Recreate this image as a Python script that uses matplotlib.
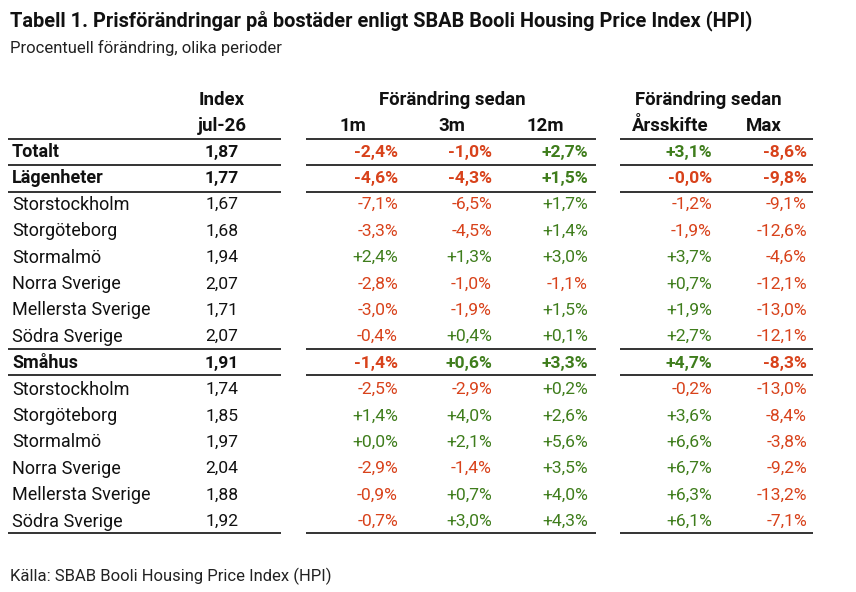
import matplotlib
matplotlib.use("Agg")
from matplotlib import pyplot as plt

plt.rcParams['font.family'] = ['Roboto', 'DejaVu Sans']

title = "Tabell 1. Prisförändringar på bostäder enligt SBAB Booli Housing Price Index (HPI)"
subtitle = "Procentuell förändring, olika perioder"
source = "Källa: SBAB Booli Housing Price Index (HPI)"

regions = ["Totalt", "Lägenheter", "Storstockholm", "Storgöteborg", "Stormalmö",
           "Norra Sverige", "Mellersta Sverige", "Södra Sverige", "Småhus",
           "Storstockholm", "Storgöteborg", "Stormalmö", "Norra Sverige",
           "Mellersta Sverige", "Södra Sverige"]
bold_rows = [0, 1, 8]
index_jul26 = [1.87, 1.77, 1.67, 1.68, 1.94, 2.07, 1.71, 2.07, 1.91,
               1.74, 1.85, 1.97, 2.04, 1.88, 1.92]
chg_1m = [-2.4, -4.6, -7.1, -3.3, 2.4, -2.8, -3.0, -0.4, -1.4,
          -2.5, 1.4, 0.0, -2.9, -0.9, -0.7]
chg_3m = [-1.0, -4.3, -6.5, -4.5, 1.3, -1.0, -1.9, 0.4, 0.6,
          -2.9, 4.0, 2.1, -1.4, 0.7, 3.0]
chg_12m = [2.7, 1.5, 1.7, 1.4, 3.0, -1.1, 1.5, 0.1, 3.3,
           0.2, 2.6, 5.6, 3.5, 4.0, 4.3]
chg_ytd = [3.1, -0.0, -1.2, -1.9, 3.7, 0.7, 1.9, 2.7, 4.7,
           -0.2, 3.6, 6.6, 6.7, 6.3, 6.1]
chg_max = [-8.6, -9.8, -9.1, -12.6, -4.6, -12.1, -13.0, -12.1, -8.3,
           -13.0, -8.4, -3.8, -9.2, -13.2, -7.1]
col_heads = ["1m", "3m", "12m", "Årsskifte", "Max"]

RED = "#d8421b"
GREEN = "#3f7d1c"
BLACK = "#111111"

fig = plt.figure(figsize=(8.56, 5.92), dpi=100)
ax = fig.add_axes([0, 0, 1, 1])
ax.set_xlim(0, 856)
ax.set_ylim(592, 0)
ax.axis("off")

fs_lab = 13
fs_num = 12.6
fs_head = 13.4
ax.text(10, 21, title, fontsize=14.4, fontweight="bold", color=BLACK, va="center", ha="left")
ax.text(10, 48, subtitle, fontsize=12, color="#222222", va="center", ha="left")
ax.text(10, 576, source, fontsize=12, color="#222222", va="center", ha="left")

# headers
hy1, hy2 = 100, 126
ax.text(222, hy1, "Index", fontsize=fs_head, fontweight="bold", ha="center", va="center", color=BLACK)
ax.text(222, hy2, "jul-26", fontsize=fs_head, fontweight="bold", ha="center", va="center", color=BLACK)
ax.text(452, hy1, "Förändring sedan", fontsize=fs_head, fontweight="bold", ha="center", va="center", color=BLACK)
ax.text(708, hy1, "Förändring sedan", fontsize=fs_head, fontweight="bold", ha="center", va="center", color=BLACK)
head_x = [353, 452, 545, 670, 764]
for x, h in zip(head_x, col_heads):
    ax.text(x, hy2, h, fontsize=fs_head, fontweight="bold", ha="center", va="center", color=BLACK)

# rows
row_y0, row_h = 152, 26.4
val_x = [398, 492, 588, 712, 807]
cols = [chg_1m, chg_3m, chg_12m, chg_ytd, chg_max]
for i, name in enumerate(regions):
    y = row_y0 + i * row_h
    wt = "bold" if i in bold_rows else "normal"
    ax.text(12, y, name, fontsize=fs_lab, fontweight=wt, ha="left", va="center", color=BLACK)
    ax.text(222, y, f"{index_jul26[i]:.2f}".replace(".", ","), fontsize=fs_num,
            fontweight=wt, ha="center", va="center", color=BLACK)
    for x, col in zip(val_x, cols):
        s = f"{col[i]:+.1f}%".replace(".", ",")
        c = RED if s.startswith("-") else GREEN
        ax.text(x, y, s, fontsize=fs_num, fontweight=wt, ha="right", va="center", color=c)

# rules
segments = [(8, 281), (306, 596), (620, 813)]
line_ys = [138.5, 165, 191.5, 348.5, 375, 533]
for ly in line_ys:
    for x0, x1 in segments:
        ax.plot([x0, x1], [ly, ly], color=BLACK, lw=1.2, solid_capstyle="butt")

fig.savefig("out.png", dpi=100, facecolor="white")
